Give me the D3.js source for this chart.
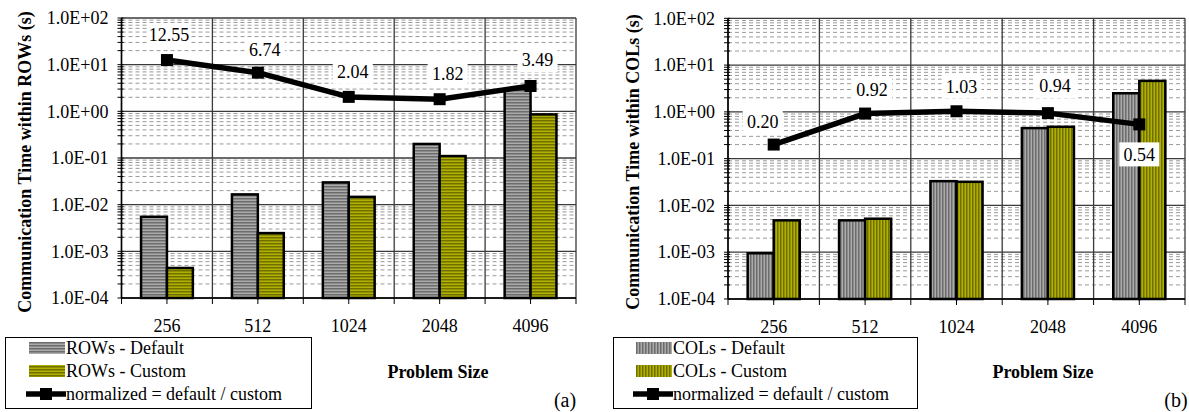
<!DOCTYPE html>
<html>
<head>
<meta charset="utf-8">
<script src="https://cdn.jsdelivr.net/npm/d3@7"></script>
<style>
  html, body { margin: 0; padding: 0; background: #fff; }
  svg { display: block; }
  svg text { font-family: "Liberation Serif", "DejaVu Serif", serif; fill: #000; }
</style>
</head>
<body>
<script>
// Problem sizes on the x axis
const categories = ["256", "512", "1024", "2048", "4096"];

// Decade ticks of the log axis and their labels
const yTickValues = [1e-4, 1e-3, 1e-2, 1e-1, 1e0, 1e1, 1e2];
const yTickLabels = ["1.0E-04", "1.0E-03", "1.0E-02", "1.0E-01", "1.0E+00", "1.0E+01", "1.0E+02"];

// (a) communication time within ROWs, seconds
const rowsDefault = [0.0055, 0.0166, 0.030, 0.20, 3.0];
const rowsCustom = [0.00044, 0.00246, 0.0147, 0.11, 0.86];
const rowsNormalized = [12.55, 6.74, 2.04, 1.82, 3.49];

// (b) communication time within COLs, seconds
const colsDefault = [0.00095, 0.0048, 0.033, 0.45, 2.5];
const colsCustom = [0.0048, 0.0052, 0.032, 0.48, 4.6];
const colsNormalized = [0.20, 0.92, 1.03, 0.94, 0.54];

const SERIF = "'Liberation Serif','DejaVu Serif',serif";
const W = 1189, H = 412;
const svg = d3.select("body").append("svg").attr("width", W).attr("height", H)
  .attr("font-family", SERIF);
svg.append("rect").attr("width", W).attr("height", H).attr("fill", "#fff");

// Striped fills: horizontal stripes for ROWs, vertical stripes for COLs
const defs = svg.append("defs");
function stripes(id, dark, light, vertical) {
  const p = defs.append("pattern").attr("id", id)
    .attr("patternUnits", "userSpaceOnUse").attr("width", 3).attr("height", 3);
  p.append("rect").attr("width", 3).attr("height", 3).attr("fill", light);
  if (vertical) p.append("rect").attr("width", 1.5).attr("height", 3).attr("fill", dark);
  else p.append("rect").attr("width", 3).attr("height", 1.5).attr("fill", dark);
}
stripes("grayH", "#6c6c6c", "#ababab", false);
stripes("oliveH", "#707000", "#b0b000", false);
stripes("grayV", "#6c6c6c", "#ababab", true);
stripes("oliveV", "#707000", "#b0b000", true);

const fmt2 = d3.format(".2f");

function drawPanel(o) {
  const g = svg.append("g");
  const x = d3.scaleBand().domain(categories).range([o.x0, o.x1]).padding(0);
  const bw = x.bandwidth();
  const inner = d3.scaleBand().domain(["default", "custom"])
    .range([bw * 0.215, bw * 0.785]).padding(0);
  const y = d3.scaleLog().domain([1e-4, 1e2]).range([o.yBot, o.yTop]);

  // minor gridlines at 2..9 of every decade
  const minors = [];
  for (let e = -4; e < 2; e++) for (let k = 2; k <= 9; k++) minors.push(k * Math.pow(10, e));
  g.append("g").selectAll("line").data(minors).join("line")
    .attr("x1", o.x0).attr("x2", o.x1)
    .attr("y1", d => y(d)).attr("y2", d => y(d))
    .attr("stroke", "#9a9a9a").attr("stroke-width", 1)
    .attr("stroke-dasharray", "4,3");

  // major gridlines
  g.append("g").selectAll("line").data(yTickValues).join("line")
    .attr("x1", o.x0).attr("x2", o.x1)
    .attr("y1", d => y(d)).attr("y2", d => y(d))
    .attr("stroke", "#3a3a3a").attr("stroke-width", 1.3);
  const bounds = categories.map(c => x(c)).concat([o.x1]);
  g.append("g").selectAll("line").data(bounds).join("line")
    .attr("x1", d => d).attr("x2", d => d)
    .attr("y1", o.yTop).attr("y2", o.yBot)
    .attr("stroke", "#3a3a3a").attr("stroke-width", 1.3);

  // bars
  const series = [
    { key: "default", values: o.def, fill: o.fillDef },
    { key: "custom", values: o.cus, fill: o.fillCus }
  ];
  series.forEach(s => {
    g.append("g").selectAll("rect").data(s.values).join("rect")
      .attr("x", (d, i) => x(categories[i]) + inner(s.key))
      .attr("width", inner.bandwidth())
      .attr("y", d => y(d))
      .attr("height", d => o.yBot - y(d))
      .attr("fill", `url(#${s.fill})`)
      .attr("stroke", "#000").attr("stroke-width", 2.5);
  });

  // axes
  const yAxis = g.append("g").attr("transform", `translate(${o.x0},0)`)
    .call(d3.axisLeft(y).tickValues(yTickValues)
      .tickFormat((d, i) => yTickLabels[i]).tickSize(0).tickPadding(13));
  yAxis.attr("font-family", SERIF).attr("font-size", 18);
  yAxis.select(".domain").remove();
  g.append("g").selectAll("line").data(minors.concat(yTickValues)).join("line")
    .attr("x1", o.x0 - 4).attr("x2", o.x0 + 2)
    .attr("y1", d => y(d)).attr("y2", d => y(d))
    .attr("stroke", "#000").attr("stroke-width", 1);
  g.append("line").attr("x1", o.x0).attr("x2", o.x0)
    .attr("y1", o.yTop).attr("y2", o.yBot).attr("stroke", "#000").attr("stroke-width", 1.5);

  const xAxis = g.append("g").attr("transform", `translate(0,${o.yBot})`)
    .call(d3.axisBottom(x).tickSize(0).tickPadding(0));
  xAxis.attr("font-family", SERIF).attr("font-size", 18);
  xAxis.select(".domain").remove();
  xAxis.selectAll("text").attr("dy", null).attr("y", 34);
  const xt = bounds.concat(categories.map(c => x(c) + bw / 2));
  g.append("g").selectAll("line").data(xt).join("line")
    .attr("x1", d => d).attr("x2", d => d)
    .attr("y1", o.yBot).attr("y2", o.yBot + 6)
    .attr("stroke", "#000").attr("stroke-width", 1);
  g.append("line").attr("x1", o.x0).attr("x2", o.x1)
    .attr("y1", o.yBot).attr("y2", o.yBot).attr("stroke", "#000").attr("stroke-width", 1.5);

  // normalized ratio line
  const cx = i => x(categories[i]) + bw / 2;
  const line = d3.line().x((d, i) => cx(i)).y(d => y(d));
  g.append("path").datum(o.norm).attr("d", line)
    .attr("fill", "none").attr("stroke", "#000").attr("stroke-width", 5.5)
    .attr("stroke-linejoin", "round");
  g.append("g").selectAll("rect").data(o.norm).join("rect")
    .attr("x", (d, i) => cx(i) - 6).attr("y", d => y(d) - 6)
    .attr("width", 12).attr("height", 12).attr("fill", "#000");

  // value labels on white boxes
  const lbl = g.append("g").selectAll("g").data(o.norm).join("g")
    .attr("transform", (d, i) => {
      const off = o.labelOffsets[i];
      return `translate(${cx(i) + off[0]},${y(d) + off[1]})`;
    });
  lbl.append("rect").attr("x", -20).attr("y", -12).attr("width", 40).attr("height", 24)
    .attr("fill", "#fff");
  lbl.append("text").attr("text-anchor", "middle").attr("dy", "0.35em")
    .attr("font-size", 18).text(d => fmt2(d));

  // y axis title
  g.append("text")
    .attr("transform", `translate(${o.titleX},162) rotate(-90)`)
    .attr("text-anchor", "middle").attr("dy", "0.35em")
    .attr("font-size", 18).attr("font-weight", "bold").text(o.yTitle);

  // x axis title and panel letter
  g.append("text").attr("x", o.xTitleX).attr("y", 372).attr("dy", "0.35em")
    .attr("text-anchor", "middle")
    .attr("font-size", 18).attr("font-weight", "bold").text("Problem Size");
  g.append("text").attr("x", o.letterX).attr("y", 400).attr("dy", "0.35em")
    .attr("text-anchor", "middle").attr("font-size", 20).text(o.letter);

  // legend
  const L = o.legend;
  g.append("rect").attr("x", L.x).attr("y", 337.5).attr("width", L.w).attr("height", 71)
    .attr("fill", "#fff").attr("stroke", "#000").attr("stroke-width", 1);
  const rows = [348, 371, 394];
  [o.fillDef, o.fillCus].forEach((f, i) => {
    g.append("rect").attr("x", L.sx).attr("y", rows[i] - 6).attr("width", 36).attr("height", 12)
      .attr("fill", `url(#${f})`);
  });
  g.append("line").attr("x1", L.sx - 3).attr("x2", L.sx + 37)
    .attr("y1", rows[2]).attr("y2", rows[2]).attr("stroke", "#000").attr("stroke-width", 5.5);
  g.append("rect").attr("x", L.sx + 17 - 6).attr("y", rows[2] - 6)
    .attr("width", 12).attr("height", 12).attr("fill", "#000");
  g.append("g").selectAll("text").data(o.names).join("text")
    .attr("x", L.sx + 37).attr("y", (d, i) => rows[i]).attr("dy", "0.35em")
    .attr("font-size", 18).text(d => d);
}

drawPanel({
  x0: 121.5, x1: 576, yTop: 18, yBot: 298,
  def: rowsDefault, cus: rowsCustom, norm: rowsNormalized,
  fillDef: "grayH", fillCus: "oliveH",
  labelOffsets: [[2, -25], [7, -23], [4, -25], [8, -26], [7, -26]],
  yTitle: "Communication Time within ROWs (s)", titleX: 25,
  xTitleX: 438, letterX: 565, letter: "(a)",
  legend: { x: 5.5, w: 306, sx: 29 },
  names: ["ROWs - Default", "ROWs - Custom", "normalized = default / custom"]
});

drawPanel({
  x0: 728, x1: 1185, yTop: 18.3, yBot: 299,
  def: colsDefault, cus: colsCustom, norm: colsNormalized,
  fillDef: "grayV", fillCus: "oliveV",
  labelOffsets: [[-11, -23], [7, -24], [5, -25], [7, -27], [0, 30]],
  yTitle: "Communication Time within COLs (s)", titleX: 633,
  xTitleX: 1043, letterX: 1176, letter: "(b)",
  legend: { x: 613.5, w: 304, sx: 636 },
  names: ["COLs - Default", "COLs - Custom", "normalized = default / custom"]
});
</script>
</body>
</html>
